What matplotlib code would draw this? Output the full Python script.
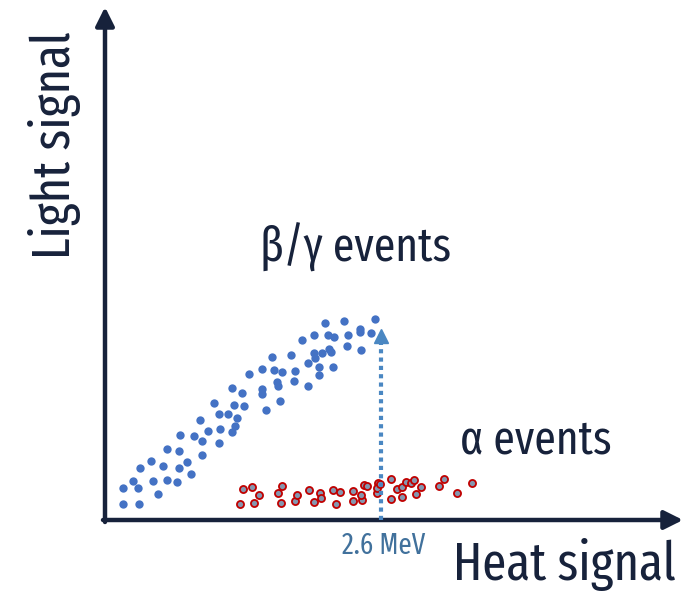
import matplotlib
matplotlib.use("Agg")
import matplotlib.pyplot as plt

# blue (beta/gamma) band: heat, light
beta_heat = [17.7, 18.3, 34.3, 33.3, 28.3, 35.0, 45.7, 47.7, 52.7, 58.3, 62.3, 72.3,
             73.7, 82.3, 86.3, 61.7, 74.0, 75.0, 89.0, 96.7, 96.7, 102.7, 95.3, 108.7,
             114.3, 123.0, 115.3, 114.0, 127.3, 130.3, 132.0, 129.0, 139.3, 136.7, 126.7,
             144.0, 157.0, 157.0, 156.7, 161.0, 175.3, 173.3, 172.3, 169.0, 177.0, 167.0,
             186.0, 190.3, 189.3, 203.0, 196.7, 203.3, 209.3, 209.3, 210.3, 214.0, 214.0,
             217.0, 220.0, 223.0, 229.3, 224.3, 226.0, 227.7, 238.7, 243.0, 242.3, 255.3,
             255.3, 256.0, 266.3, 270.3]
beta_light = [31.7, 15.7, 15.7, 31.7, 39.3, 52.3, 59.3, 38.7, 26.3, 54.3, 39.7, 38.0,
              52.3, 57.7, 46.3, 71.0, 69.3, 85.0, 84.0, 79.3, 65.0, 89.3, 100.3, 117.3,
              106.3, 105.7, 91.0, 77.3, 88.3, 94.3, 102.3, 114.7, 114.0, 127.3, 132.3,
              145.7, 150.7, 130.7, 125.7, 110.3, 119.0, 134.0, 138.3, 150.0, 148.3, 162.7,
              164.7, 149.3, 139.0, 134.3, 179.7, 156.7, 185.3, 166.7, 162.3, 152.7, 145.3,
              166.7, 196.7, 185.3, 182.7, 171.3, 168.3, 153.3, 198.7, 184.7, 174.3, 191.0,
              187.7, 170.0, 187.3, 201.3]

# red (alpha) band
alpha_heat = [135.0, 138.3, 147.0, 148.7, 154.3, 172.7, 175.7, 177.0, 189.7, 191.7,
              203.7, 208.7, 215.0, 216.0, 228.3, 231.0, 235.3, 248.0, 248.3, 256.7,
              255.7, 259.0, 261.7, 272.3, 273.3, 272.3, 275.0, 286.0, 286.0, 292.3,
              296.7, 296.7, 300.7, 306.3, 309.0, 311.0, 316.3, 334.3, 339.0, 352.0, 366.7]
alpha_light = [16.3, 30.7, 32.7, 17.0, 25.3, 27.3, 17.3, 33.7, 19.3, 25.3,
               29.7, 18.0, 27.3, 22.3, 30.0, 15.7, 27.7, 28.7, 18.7, 20.0,
               25.3, 35.3, 34.0, 26.7, 36.7, 31.7, 36.0, 41.3, 21.0, 31.3,
               32.7, 23.3, 38.0, 37.0, 40.0, 25.7, 32.7, 34.0, 40.7, 27.3, 37.0]

threshold = 276        # 2.6 MeV line
threshold_top = 191

NAVY = "#17223b"
STEEL = "#4a87c2"
FAM = ["Fira Sans Extra Condensed", "DejaVu Sans"]

fig = plt.figure(figsize=(6.93, 5.95), dpi=100)
ax = fig.add_axes([0, 0, 1, 1])
ax.set_xlim(-105, 588)
ax.set_ylim(-75, 520)
ax.axis("off")

# axes with arrow heads
ax.annotate("", xy=(0, 513), xytext=(0, -2),
            arrowprops=dict(arrowstyle="-|>", color=NAVY, lw=3.2,
                            mutation_scale=28, shrinkA=0, shrinkB=0))
ax.annotate("", xy=(578, 0), xytext=(-2, 0),
            arrowprops=dict(arrowstyle="-|>", color=NAVY, lw=3.2,
                            mutation_scale=28, shrinkA=0, shrinkB=0))

ax.scatter(beta_heat, beta_light, s=36, color="#4472c4", zorder=3, linewidths=0)
ax.scatter(alpha_heat, alpha_light, s=26, facecolor="#8497b0",
           edgecolor="#c00000", linewidths=1.3, zorder=3)

# 2.6 MeV marker
ax.plot([threshold, threshold], [0, threshold_top - 14], color=STEEL, lw=3,
        linestyle=(0, (1, 1)), solid_capstyle="butt", zorder=4)
ax.plot([threshold], [threshold_top - 7], marker="^", markersize=10.5,
        color=STEEL, zorder=4)

ax.text(threshold + 3, -26, "2.6 MeV", color="#41719c", fontsize=21,
        family=FAM, ha="center", va="center")
ax.text(-50, 375, "Light signal", color=NAVY, fontsize=38, rotation=90,
        family=FAM, ha="center", va="center")
ax.text(459, -45, "Heat signal", color=NAVY, fontsize=38,
        family=FAM, ha="center", va="center")
ax.text(251, 273, "β/γ events", color=NAVY, fontsize=34,
        family=FAM, ha="center", va="center")
ax.text(431, 80, "α events", color=NAVY, fontsize=34,
        family=FAM, ha="center", va="center")

fig.savefig("out.png", dpi=100)
